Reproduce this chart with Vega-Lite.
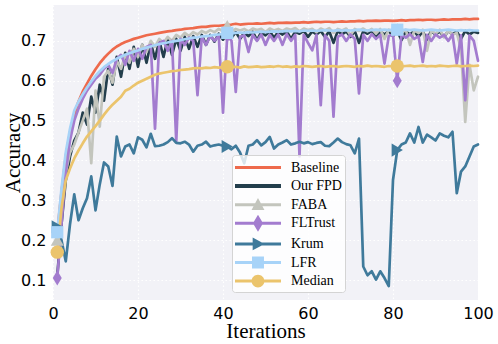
{
"$schema": "https://vega.github.io/schema/vega-lite/v6.json",
"width": 425, "height": 295,
"autosize": "none",
"padding": {"left": 53, "top": 5, "right": 20, "bottom": 44},
"background": "white",
"data": {"values": [
{"x":1,"Baseline":0.22,"Our FPD":0.11,"FABA":0.2,"FLTrust":0.105,"Krum":0.234,"LFR":0.22,"Median":0.17},
{"x":2,"Baseline":0.32,"Our FPD":0.24,"FABA":0.3,"FLTrust":0.24,"Krum":0.2,"LFR":0.33,"Median":0.28},
{"x":3,"Baseline":0.41,"Our FPD":0.35,"FABA":0.37,"FLTrust":0.37,"Krum":0.147,"LFR":0.42,"Median":0.35},
{"x":4,"Baseline":0.47,"Our FPD":0.41,"FABA":0.42,"FLTrust":0.45,"Krum":0.24,"LFR":0.48,"Median":0.38},
{"x":5,"Baseline":0.515,"Our FPD":0.45,"FABA":0.44,"FLTrust":0.5,"Krum":0.315,"LFR":0.525,"Median":0.405},
{"x":6,"Baseline":0.548,"Our FPD":0.47,"FABA":0.47,"FLTrust":0.53,"Krum":0.25,"LFR":0.548,"Median":0.425},
{"x":7,"Baseline":0.573,"Our FPD":0.52,"FABA":0.5,"FLTrust":0.555,"Krum":0.28,"LFR":0.566,"Median":0.443},
{"x":8,"Baseline":0.593,"Our FPD":0.49,"FABA":0.53,"FLTrust":0.575,"Krum":0.305,"LFR":0.583,"Median":0.46},
{"x":9,"Baseline":0.612,"Our FPD":0.56,"FABA":0.393,"FLTrust":0.59,"Krum":0.36,"LFR":0.598,"Median":0.473},
{"x":10,"Baseline":0.629,"Our FPD":0.52,"FABA":0.575,"FLTrust":0.605,"Krum":0.275,"LFR":0.612,"Median":0.486},
{"x":11,"Baseline":0.644,"Our FPD":0.59,"FABA":0.485,"FLTrust":0.615,"Krum":0.34,"LFR":0.624,"Median":0.5},
{"x":12,"Baseline":0.657,"Our FPD":0.55,"FABA":0.61,"FLTrust":0.63,"Krum":0.395,"LFR":0.634,"Median":0.515},
{"x":13,"Baseline":0.668,"Our FPD":0.63,"FABA":0.625,"FLTrust":0.64,"Krum":0.385,"LFR":0.642,"Median":0.528},
{"x":14,"Baseline":0.678,"Our FPD":0.59,"FABA":0.595,"FLTrust":0.62,"Krum":0.336,"LFR":0.649,"Median":0.54},
{"x":15,"Baseline":0.686,"Our FPD":0.66,"FABA":0.65,"FLTrust":0.655,"Krum":0.46,"LFR":0.655,"Median":0.55},
{"x":16,"Baseline":0.692,"Our FPD":0.61,"FABA":0.63,"FLTrust":0.665,"Krum":0.41,"LFR":0.66,"Median":0.56},
{"x":17,"Baseline":0.697,"Our FPD":0.67,"FABA":0.665,"FLTrust":0.64,"Krum":0.435,"LFR":0.665,"Median":0.575},
{"x":18,"Baseline":0.701,"Our FPD":0.63,"FABA":0.645,"FLTrust":0.675,"Krum":0.44,"LFR":0.669,"Median":0.58},
{"x":19,"Baseline":0.705,"Our FPD":0.685,"FABA":0.68,"FLTrust":0.65,"Krum":0.418,"LFR":0.673,"Median":0.588},
{"x":20,"Baseline":0.708,"Our FPD":0.635,"FABA":0.66,"FLTrust":0.68,"Krum":0.458,"LFR":0.676,"Median":0.595},
{"x":21,"Baseline":0.711,"Our FPD":0.69,"FABA":0.69,"FLTrust":0.655,"Krum":0.452,"LFR":0.68,"Median":0.6},
{"x":22,"Baseline":0.714,"Our FPD":0.645,"FABA":0.672,"FLTrust":0.685,"Krum":0.433,"LFR":0.683,"Median":0.605},
{"x":23,"Baseline":0.716,"Our FPD":0.695,"FABA":0.7,"FLTrust":0.69,"Krum":0.467,"LFR":0.686,"Median":0.61},
{"x":24,"Baseline":0.718,"Our FPD":0.655,"FABA":0.685,"FLTrust":0.48,"Krum":0.436,"LFR":0.689,"Median":0.615},
{"x":25,"Baseline":0.72,"Our FPD":0.7,"FABA":0.705,"FLTrust":0.695,"Krum":0.437,"LFR":0.692,"Median":0.618},
{"x":26,"Baseline":0.722,"Our FPD":0.66,"FABA":0.695,"FLTrust":0.7,"Krum":0.44,"LFR":0.694,"Median":0.62},
{"x":27,"Baseline":0.724,"Our FPD":0.705,"FABA":0.71,"FLTrust":0.675,"Krum":0.446,"LFR":0.696,"Median":0.622},
{"x":28,"Baseline":0.725,"Our FPD":0.665,"FABA":0.7,"FLTrust":0.7,"Krum":0.456,"LFR":0.698,"Median":0.624},
{"x":29,"Baseline":0.727,"Our FPD":0.705,"FABA":0.715,"FLTrust":0.447,"Krum":0.444,"LFR":0.7,"Median":0.625},
{"x":30,"Baseline":0.728,"Our FPD":0.675,"FABA":0.708,"FLTrust":0.705,"Krum":0.443,"LFR":0.702,"Median":0.627},
{"x":31,"Baseline":0.73,"Our FPD":0.71,"FABA":0.72,"FLTrust":0.69,"Krum":0.447,"LFR":0.704,"Median":0.628},
{"x":32,"Baseline":0.731,"Our FPD":0.68,"FABA":0.712,"FLTrust":0.708,"Krum":0.44,"LFR":0.706,"Median":0.629},
{"x":33,"Baseline":0.732,"Our FPD":0.712,"FABA":0.722,"FLTrust":0.7,"Krum":0.422,"LFR":0.708,"Median":0.631},
{"x":34,"Baseline":0.734,"Our FPD":0.685,"FABA":0.716,"FLTrust":0.564,"Krum":0.437,"LFR":0.709,"Median":0.632},
{"x":35,"Baseline":0.735,"Our FPD":0.715,"FABA":0.725,"FLTrust":0.71,"Krum":0.44,"LFR":0.711,"Median":0.631},
{"x":36,"Baseline":0.735,"Our FPD":0.69,"FABA":0.72,"FLTrust":0.69,"Krum":0.447,"LFR":0.712,"Median":0.633},
{"x":37,"Baseline":0.737,"Our FPD":0.715,"FABA":0.727,"FLTrust":0.712,"Krum":0.435,"LFR":0.713,"Median":0.632},
{"x":38,"Baseline":0.738,"Our FPD":0.698,"FABA":0.722,"FLTrust":0.7,"Krum":0.438,"LFR":0.715,"Median":0.634},
{"x":39,"Baseline":0.738,"Our FPD":0.718,"FABA":0.73,"FLTrust":0.713,"Krum":0.44,"LFR":0.716,"Median":0.633},
{"x":40,"Baseline":0.739,"Our FPD":0.703,"FABA":0.725,"FLTrust":0.52,"Krum":0.437,"LFR":0.717,"Median":0.634},
{"x":41,"Baseline":0.74,"Our FPD":0.72,"FABA":0.738,"FLTrust":0.714,"Krum":0.435,"LFR":0.72,"Median":0.635},
{"x":42,"Baseline":0.741,"Our FPD":0.708,"FABA":0.725,"FLTrust":0.7,"Krum":0.428,"LFR":0.719,"Median":0.634},
{"x":43,"Baseline":0.743,"Our FPD":0.722,"FABA":0.73,"FLTrust":0.572,"Krum":0.437,"LFR":0.72,"Median":0.635},
{"x":44,"Baseline":0.741,"Our FPD":0.705,"FABA":0.726,"FLTrust":0.71,"Krum":0.42,"LFR":0.721,"Median":0.633},
{"x":45,"Baseline":0.742,"Our FPD":0.72,"FABA":0.73,"FLTrust":0.714,"Krum":0.393,"LFR":0.72,"Median":0.636},
{"x":46,"Baseline":0.743,"Our FPD":0.712,"FABA":0.724,"FLTrust":0.672,"Krum":0.437,"LFR":0.722,"Median":0.634},
{"x":47,"Baseline":0.743,"Our FPD":0.723,"FABA":0.731,"FLTrust":0.715,"Krum":0.44,"LFR":0.721,"Median":0.635},
{"x":48,"Baseline":0.744,"Our FPD":0.702,"FABA":0.727,"FLTrust":0.7,"Krum":0.451,"LFR":0.722,"Median":0.636},
{"x":49,"Baseline":0.743,"Our FPD":0.722,"FABA":0.73,"FLTrust":0.716,"Krum":0.438,"LFR":0.723,"Median":0.634},
{"x":50,"Baseline":0.744,"Our FPD":0.714,"FABA":0.722,"FLTrust":0.69,"Krum":0.446,"LFR":0.722,"Median":0.635},
{"x":51,"Baseline":0.745,"Our FPD":0.724,"FABA":0.731,"FLTrust":0.715,"Krum":0.459,"LFR":0.723,"Median":0.636},
{"x":52,"Baseline":0.744,"Our FPD":0.708,"FABA":0.726,"FLTrust":0.7,"Krum":0.43,"LFR":0.724,"Median":0.635},
{"x":53,"Baseline":0.745,"Our FPD":0.723,"FABA":0.73,"FLTrust":0.716,"Krum":0.44,"LFR":0.723,"Median":0.637},
{"x":54,"Baseline":0.745,"Our FPD":0.716,"FABA":0.725,"FLTrust":0.69,"Krum":0.445,"LFR":0.724,"Median":0.635},
{"x":55,"Baseline":0.746,"Our FPD":0.724,"FABA":0.731,"FLTrust":0.717,"Krum":0.451,"LFR":0.725,"Median":0.636},
{"x":56,"Baseline":0.745,"Our FPD":0.705,"FABA":0.728,"FLTrust":0.7,"Krum":0.44,"LFR":0.724,"Median":0.634},
{"x":57,"Baseline":0.746,"Our FPD":0.723,"FABA":0.732,"FLTrust":0.715,"Krum":0.443,"LFR":0.725,"Median":0.636},
{"x":58,"Baseline":0.746,"Our FPD":0.718,"FABA":0.724,"FLTrust":0.41,"Krum":0.447,"LFR":0.724,"Median":0.635},
{"x":59,"Baseline":0.747,"Our FPD":0.725,"FABA":0.731,"FLTrust":0.715,"Krum":0.443,"LFR":0.726,"Median":0.637},
{"x":60,"Baseline":0.746,"Our FPD":0.71,"FABA":0.727,"FLTrust":0.695,"Krum":0.446,"LFR":0.725,"Median":0.636},
{"x":61,"Baseline":0.747,"Our FPD":0.724,"FABA":0.73,"FLTrust":0.676,"Krum":0.441,"LFR":0.726,"Median":0.635},
{"x":62,"Baseline":0.748,"Our FPD":0.716,"FABA":0.722,"FLTrust":0.715,"Krum":0.444,"LFR":0.725,"Median":0.636},
{"x":63,"Baseline":0.747,"Our FPD":0.725,"FABA":0.731,"FLTrust":0.539,"Krum":0.446,"LFR":0.726,"Median":0.637},
{"x":64,"Baseline":0.748,"Our FPD":0.71,"FABA":0.726,"FLTrust":0.714,"Krum":0.437,"LFR":0.727,"Median":0.635},
{"x":65,"Baseline":0.748,"Our FPD":0.724,"FABA":0.732,"FLTrust":0.7,"Krum":0.436,"LFR":0.726,"Median":0.636},
{"x":66,"Baseline":0.747,"Our FPD":0.695,"FABA":0.72,"FLTrust":0.51,"Krum":0.445,"LFR":0.725,"Median":0.637},
{"x":67,"Baseline":0.748,"Our FPD":0.725,"FABA":0.73,"FLTrust":0.71,"Krum":0.455,"LFR":0.727,"Median":0.635},
{"x":68,"Baseline":0.749,"Our FPD":0.716,"FABA":0.726,"FLTrust":0.716,"Krum":0.446,"LFR":0.726,"Median":0.636},
{"x":69,"Baseline":0.748,"Our FPD":0.724,"FABA":0.731,"FLTrust":0.7,"Krum":0.441,"LFR":0.727,"Median":0.637},
{"x":70,"Baseline":0.749,"Our FPD":0.71,"FABA":0.714,"FLTrust":0.716,"Krum":0.438,"LFR":0.726,"Median":0.636},
{"x":71,"Baseline":0.749,"Our FPD":0.725,"FABA":0.73,"FLTrust":0.705,"Krum":0.418,"LFR":0.727,"Median":0.635},
{"x":72,"Baseline":0.75,"Our FPD":0.695,"FABA":0.725,"FLTrust":0.568,"Krum":0.455,"LFR":0.728,"Median":0.637},
{"x":73,"Baseline":0.749,"Our FPD":0.724,"FABA":0.731,"FLTrust":0.715,"Krum":0.134,"LFR":0.727,"Median":0.636},
{"x":74,"Baseline":0.75,"Our FPD":0.718,"FABA":0.724,"FLTrust":0.7,"Krum":0.112,"LFR":0.726,"Median":0.638},
{"x":75,"Baseline":0.75,"Our FPD":0.725,"FABA":0.73,"FLTrust":0.717,"Krum":0.122,"LFR":0.727,"Median":0.636},
{"x":76,"Baseline":0.751,"Our FPD":0.71,"FABA":0.718,"FLTrust":0.705,"Krum":0.101,"LFR":0.728,"Median":0.637},
{"x":77,"Baseline":0.75,"Our FPD":0.724,"FABA":0.73,"FLTrust":0.715,"Krum":0.122,"LFR":0.727,"Median":0.636},
{"x":78,"Baseline":0.751,"Our FPD":0.716,"FABA":0.705,"FLTrust":0.643,"Krum":0.105,"LFR":0.728,"Median":0.635},
{"x":79,"Baseline":0.751,"Our FPD":0.725,"FABA":0.728,"FLTrust":0.712,"Krum":0.085,"LFR":0.727,"Median":0.637},
{"x":80,"Baseline":0.75,"Our FPD":0.712,"FABA":0.722,"FLTrust":0.716,"Krum":0.351,"LFR":0.728,"Median":0.636},
{"x":81,"Baseline":0.751,"Our FPD":0.725,"FABA":0.73,"FLTrust":0.6,"Krum":0.426,"LFR":0.728,"Median":0.637},
{"x":82,"Baseline":0.752,"Our FPD":0.702,"FABA":0.72,"FLTrust":0.715,"Krum":0.44,"LFR":0.727,"Median":0.636},
{"x":83,"Baseline":0.751,"Our FPD":0.724,"FABA":0.728,"FLTrust":0.708,"Krum":0.445,"LFR":0.728,"Median":0.637},
{"x":84,"Baseline":0.752,"Our FPD":0.716,"FABA":0.69,"FLTrust":0.717,"Krum":0.468,"LFR":0.727,"Median":0.638},
{"x":85,"Baseline":0.752,"Our FPD":0.725,"FABA":0.726,"FLTrust":0.705,"Krum":0.445,"LFR":0.728,"Median":0.636},
{"x":86,"Baseline":0.753,"Our FPD":0.71,"FABA":0.72,"FLTrust":0.712,"Krum":0.484,"LFR":0.727,"Median":0.637},
{"x":87,"Baseline":0.752,"Our FPD":0.724,"FABA":0.728,"FLTrust":0.647,"Krum":0.445,"LFR":0.726,"Median":0.638},
{"x":88,"Baseline":0.753,"Our FPD":0.703,"FABA":0.675,"FLTrust":0.715,"Krum":0.465,"LFR":0.727,"Median":0.636},
{"x":89,"Baseline":0.753,"Our FPD":0.725,"FABA":0.726,"FLTrust":0.7,"Krum":0.458,"LFR":0.728,"Median":0.637},
{"x":90,"Baseline":0.752,"Our FPD":0.716,"FABA":0.718,"FLTrust":0.716,"Krum":0.45,"LFR":0.727,"Median":0.636},
{"x":91,"Baseline":0.753,"Our FPD":0.724,"FABA":0.728,"FLTrust":0.708,"Krum":0.468,"LFR":0.726,"Median":0.638},
{"x":92,"Baseline":0.754,"Our FPD":0.71,"FABA":0.71,"FLTrust":0.715,"Krum":0.462,"LFR":0.727,"Median":0.637},
{"x":93,"Baseline":0.753,"Our FPD":0.725,"FABA":0.726,"FLTrust":0.7,"Krum":0.458,"LFR":0.728,"Median":0.636},
{"x":94,"Baseline":0.754,"Our FPD":0.716,"FABA":0.715,"FLTrust":0.716,"Krum":0.472,"LFR":0.727,"Median":0.637},
{"x":95,"Baseline":0.754,"Our FPD":0.724,"FABA":0.72,"FLTrust":0.643,"Krum":0.318,"LFR":0.726,"Median":0.638},
{"x":96,"Baseline":0.754,"Our FPD":0.705,"FABA":0.68,"FLTrust":0.714,"Krum":0.372,"LFR":0.727,"Median":0.636},
{"x":97,"Baseline":0.755,"Our FPD":0.725,"FABA":0.497,"FLTrust":0.551,"Krum":0.385,"LFR":0.726,"Median":0.637},
{"x":98,"Baseline":0.754,"Our FPD":0.716,"FABA":0.64,"FLTrust":0.714,"Krum":0.41,"LFR":0.727,"Median":0.638},
{"x":99,"Baseline":0.755,"Our FPD":0.723,"FABA":0.576,"FLTrust":0.7,"Krum":0.435,"LFR":0.726,"Median":0.637},
{"x":100,"Baseline":0.755,"Our FPD":0.72,"FABA":0.61,"FLTrust":0.65,"Krum":0.44,"LFR":0.726,"Median":0.638}
]},
"transform": [{"fold": ["Baseline","Our FPD","FABA","FLTrust","Krum","LFR","Median"], "as": ["series","acc"]}],
"encoding": {
  "x": {"field": "x", "type": "quantitative", "scale": {"domain": [0, 100], "nice": false},
        "axis": {"title": "Iterations", "values": [0,20,40,60,80,100], "labelFlush": false, "labelPadding": 5, "titlePadding": -1}},
  "y": {"field": "acc", "type": "quantitative", "scale": {"domain": [0.05, 0.79], "nice": false, "zero": false},
        "axis": {"title": "Accuracy", "values": [0.1,0.2,0.3,0.4,0.5,0.6,0.7], "format": ".1f", "labelFlush": false, "labelPadding": 7, "titlePadding": -3}}
},
"layer": [
  {"mark": {"type": "line", "strokeJoin": "round", "strokeCap": "round", "strokeWidth": 2.7},
   "encoding": {
     "color": {"field": "series", "type": "nominal",
       "legend": {"title": null, "orient": "none", "legendX": 179, "legendY": 150, "symbolSize": 361, "rowPadding": 1.6, "labelOffset": 37, "padding": 3, "fillColor": "rgba(255,255,255,0.8)", "strokeColor": "#d4d4d4", "cornerRadius": 3, "symbolStrokeWidth": 0},
       "scale": {"domain": ["Baseline","Our FPD","FABA","FLTrust","Krum","LFR","Median"],
                 "range": ["#ee6a4c","#233e4c","#c3c5bd","#a37ccf","#3f7a9b","#a7d3f8","#ebc46c"]}}
   }},
  {"transform": [{"filter": {"field": "series", "equal": "FABA"}}, {"filter": {"field": "x", "oneOf": [1,41,81]}}],
   "mark": {"type": "point", "filled": true, "opacity": 1, "shape": "triangle-up", "size": 170, "color": "#c3c5bd"}},
  {"transform": [{"filter": {"field": "series", "equal": "FLTrust"}}, {"filter": {"field": "x", "oneOf": [1,41,81]}}],
   "mark": {"type": "point", "filled": true, "opacity": 1, "shape": "M0,-1L0.6,0L0,1L-0.6,0Z", "size": 225, "color": "#a37ccf"}},
  {"transform": [{"filter": {"field": "series", "equal": "Krum"}}, {"filter": {"field": "x", "oneOf": [1,41,81]}}],
   "mark": {"type": "point", "filled": true, "opacity": 1, "shape": "triangle-right", "size": 170, "color": "#3f7a9b"}},
  {"transform": [{"filter": {"field": "series", "equal": "LFR"}}, {"filter": {"field": "x", "oneOf": [1,41,81]}}],
   "mark": {"type": "point", "filled": true, "opacity": 1, "shape": "square", "size": 150, "color": "#a7d3f8"}},
  {"transform": [{"filter": {"field": "series", "equal": "Median"}}, {"filter": {"field": "x", "oneOf": [1,41,81]}}],
   "mark": {"type": "point", "filled": true, "opacity": 1, "shape": "circle", "size": 180, "color": "#ebc46c"}},
  {"transform": [{"filter": {"field": "x", "equal": 1}}],
   "mark": {"type": "point", "filled": true, "size": 1, "opacity": 0},
   "encoding": {
     "color": {"field": "series", "type": "nominal",
       "legend": {"title": null, "orient": "none", "legendX": 179, "legendY": 150, "symbolSize": 361, "rowPadding": 1.6, "labelOffset": 37, "padding": 3, "fillColor": "rgba(255,255,255,0.8)", "strokeColor": "#d4d4d4", "cornerRadius": 3, "symbolStrokeWidth": 0, "symbolOpacity": 1}},
     "shape": {"field": "series", "type": "nominal",
       "legend": {"title": null, "orient": "none", "legendX": 179, "legendY": 150, "symbolSize": 361, "rowPadding": 1.6, "labelOffset": 37, "padding": 3, "fillColor": "rgba(255,255,255,0.8)", "strokeColor": "#d4d4d4", "cornerRadius": 3, "symbolStrokeWidth": 0, "symbolOpacity": 1},
       "scale": {"domain": ["Baseline","Our FPD","FABA","FLTrust","Krum","LFR","Median"],
                 "range": [
                   "M-1,-0.158H3.84V0.158H-1Z",
                   "M-1,-0.21H3.84V0.21H-1Z",
                   "M-1,-0.158H3.84V0.158H-1Z M1.42,-0.7L2.1,0.56H0.74Z",
                   "M-1,-0.158H3.84V0.158H-1Z M1.42,-0.9L1.95,0L1.42,0.9L0.89,0Z",
                   "M-1,-0.158H3.84V0.158H-1Z M2.12,0L0.86,0.68V-0.68Z",
                   "M-1,-0.17H3.84V0.17H-1Z M0.79,-0.63H2.05V0.63H0.79Z",
                   "M-1,-0.158H3.84V0.158H-1Z M0.74,0A0.68,0.68 0 1,1 2.1,0A0.68,0.68 0 1,1 0.74,0Z"
                 ]}}
   }}
],
"config": {
  "view": {"fill": "#f2f2f7", "stroke": null},
  "axis": {"labelFont": "DejaVu Sans", "labelFontSize": 16, "labelColor": "#000000",
           "titleFont": "Liberation Serif", "titleFontSize": 21, "titleFontWeight": "normal", "titleColor": "#000000",
           "domain": false, "ticks": false, "grid": true, "gridColor": "#ffffff", "gridDash": [1.5, 2.5], "gridWidth": 1.2, "gridOpacity": 1},
  "legend": {"labelFont": "Liberation Serif", "labelFontSize": 14, "labelColor": "#000000", "labelFontWeight": "normal"}
}
}
